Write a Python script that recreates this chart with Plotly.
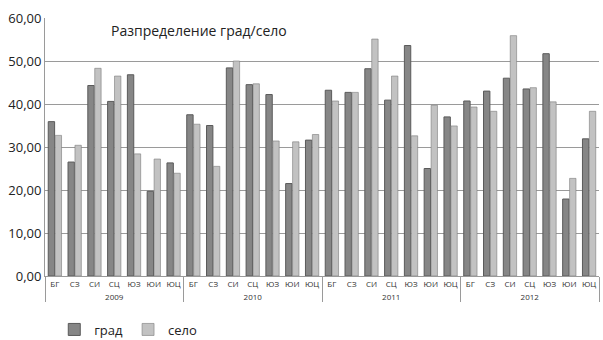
import plotly.graph_objects as go

# Regions and years
regions = ["БГ", "СЗ", "СИ", "СЦ", "ЮЗ", "ЮИ", "ЮЦ"]
years = ["2009", "2010", "2011", "2012"]

# Share (%) by region and year
grad = [
    35.9, 26.5, 44.3, 40.6, 46.8, 19.7, 26.3,   # 2009
    37.5, 35.0, 48.4, 44.5, 42.2, 21.5, 31.6,   # 2010
    43.2, 42.7, 48.2, 40.9, 53.6, 25.0, 37.0,   # 2011
    40.7, 43.0, 46.0, 43.5, 51.7, 17.9, 31.9,   # 2012
]
selo = [
    32.7, 30.4, 48.3, 46.5, 28.4, 27.2, 23.9,
    35.3, 25.5, 50.0, 44.7, 31.4, 31.2, 32.9,
    40.7, 42.7, 55.1, 46.5, 32.6, 39.7, 34.9,
    39.3, 38.3, 55.9, 43.8, 40.5, 22.7, 38.3,
]

x_year = [y for y in years for _ in regions]
x_reg = [r for _ in years for r in regions]

fig = go.Figure()
fig.add_trace(go.Bar(
    name="град", x=[x_year, x_reg], y=grad,
    marker=dict(color="#868686", line=dict(color="#5a5a5a", width=1)),
))
fig.add_trace(go.Bar(
    name="село", x=[x_year, x_reg], y=selo,
    marker=dict(color="#c2c2c2", line=dict(color="#7a7a7a", width=0.6)),
))

fig.update_layout(
    width=603, height=340,
    margin=dict(l=45, r=4, t=18, b=64),
    paper_bgcolor="white", plot_bgcolor="white",
    separators=", ",
    barmode="group", bargap=0.3, bargroupgap=0.08,
    font=dict(family="Open Sans, DejaVu Sans, sans-serif", color="#333333"),
    showlegend=True,
    legend=dict(orientation="h", xref="container", yref="container",
                x=0.09, y=0.075, xanchor="left", yanchor="top",
                font=dict(size=13, color="#222222"), itemwidth=30,
                traceorder="normal"),
    annotations=[dict(text="Разпределение град/село", xref="paper", yref="paper",
                      x=0.115, y=0.95, xanchor="left", yanchor="middle", showarrow=False,
                      font=dict(size=14, color="#222222"))],
)
fig.update_yaxes(range=[0, 60], dtick=10, tickformat=".2f", automargin=False,
                 showgrid=True, gridcolor="#9a9a9a", gridwidth=1,
                 showline=True, linecolor="#9a9a9a", ticks="",
                 tickfont=dict(size=13, color="#222222"), zeroline=False)
fig.update_xaxes(showline=True, linecolor="#9a9a9a", tickangle=0, automargin=False,
                 tickfont=dict(size=8, color="#333333"),
                 showdividers=True, dividercolor="#9a9a9a", dividerwidth=1,
                 ticks="")

fig.write_html("out.html")
